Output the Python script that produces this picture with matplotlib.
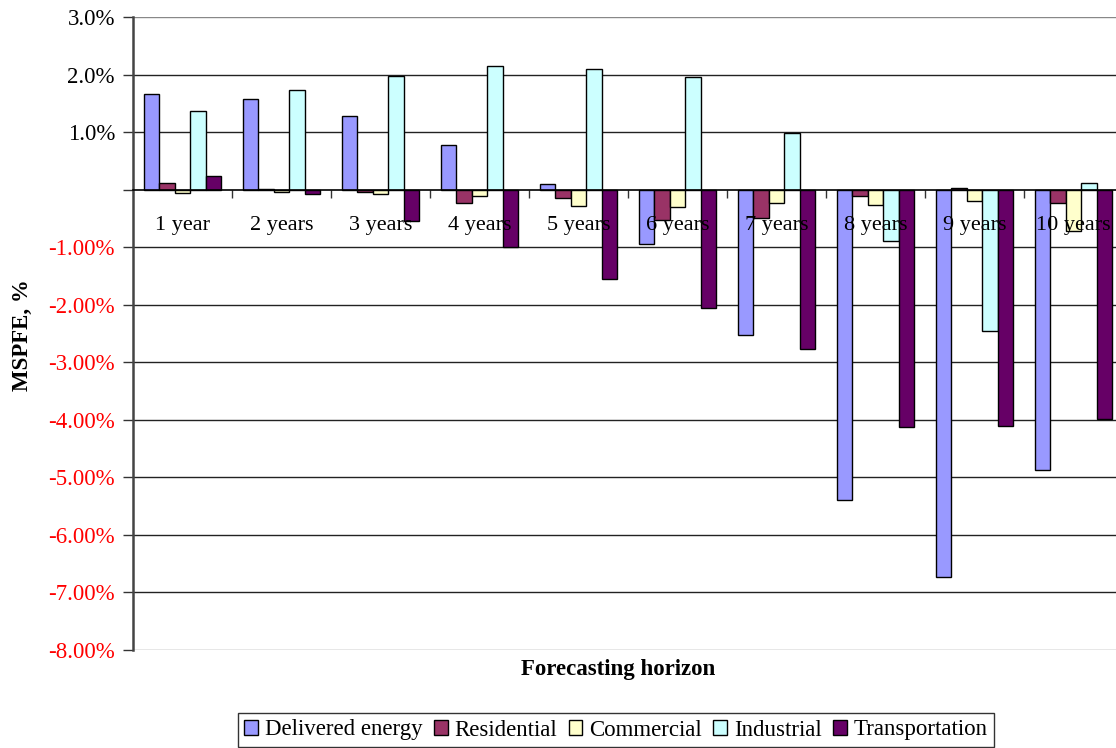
import numpy as np
import matplotlib
matplotlib.use("Agg")
import matplotlib.pyplot as plt
from matplotlib.patches import Patch

horizons = ["1 year", "2 years", "3 years", "4 years", "5 years",
            "6 years", "7 years", "8 years", "9 years", "10 years"]
delivered = [1.66, 1.58, 1.28, 0.77, 0.10, -0.94, -2.53, -5.40, -6.73, -4.87]
residential = [0.12, 0.01, -0.04, -0.24, -0.14, -0.53, -0.49, -0.11, 0.03, -0.24]
commercial = [-0.05, -0.04, -0.07, -0.11, -0.28, -0.30, -0.24, -0.26, -0.20, -0.72]
industrial = [1.36, 1.73, 1.98, 2.14, 2.09, 1.95, 0.98, -0.90, -2.46, 0.12]
transportation = [0.24, -0.08, -0.54, -1.00, -1.56, -2.05, -2.77, -4.12, -4.10, -3.98]

series_names = ["Delivered energy", "Residential", "Commercial", "Industrial", "Transportation"]
series_values = [delivered, residential, commercial, industrial, transportation]
series_colors = ["#9999FF", "#993366", "#FFFFCC", "#CCFFFF", "#660066"]

y_ticks = [3, 2, 1, 0, -1, -2, -3, -4, -5, -6, -7, -8]
y_tick_labels = ["3.0%", "2.0%", "1.0%", "", "-1.00%", "-2.00%", "-3.00%", "-4.00%",
                 "-5.00%", "-6.00%", "-7.00%", "-8.00%"]

serif = ["Liberation Serif", "DejaVu Serif"]
plt.rcParams["font.family"] = serif

fig = plt.figure(figsize=(11.16, 7.48), dpi=100)
ax = fig.add_axes([133 / 1116, 1 - 650 / 748, (1123 - 133) / 1116, (650 - 17) / 748])

x = np.arange(len(horizons))
bar_w = 0.156
offsets = (np.arange(len(series_names)) - 2) * bar_w
for vals, name, color, off in zip(series_values, series_names, series_colors, offsets):
    ax.bar(x + off, vals, width=bar_w, color=color, edgecolor="black",
           linewidth=1.0, label=name, zorder=3)

ax.set_xlim(-0.5, len(horizons) - 0.5)
ax.set_ylim(-8, 3)

# horizontal grid
for t in y_ticks:
    if t == 0:
        continue
    ax.axhline(t, color="#222222" if t not in (3, -8) else "#888888", linewidth=1.0, zorder=1)

for s in ["top", "right"]:
    ax.spines[s].set_visible(False)
ax.spines["left"].set_color("#444444")
ax.spines["left"].set_linewidth(1.8)
ax.spines["bottom"].set_position(("data", 0))
ax.spines["bottom"].set_color("black")
ax.spines["bottom"].set_linewidth(1.2)
ax.spines["bottom"].set_zorder(4)

ax.set_yticks(y_ticks)
ax.set_yticklabels(y_tick_labels, fontsize=16.5)
for lab, t in zip(ax.get_yticklabels(), y_ticks):
    lab.set_color("black" if t >= 0 else "red")
ax.tick_params(axis="y", direction="out", length=7, width=1, color="#333333", pad=6)

ax.set_xticks(np.arange(len(horizons) - 1) + 0.5)
ax.set_xticklabels([])
ax.tick_params(axis="x", direction="out", length=6, width=1, color="#333333")

for xi, lab in zip(x, horizons):
    ax.text(xi, -0.62, lab, ha="center", va="center", fontsize=16, zorder=5)

fig.text(22 / 1116, 1 - 335 / 748, "MSPFE, %", rotation=90, ha="center", va="center",
         fontsize=16.5, fontweight="bold")
fig.text(618 / 1116, 1 - 669 / 748, "Forecasting horizon", ha="center", va="center",
         fontsize=16.5, fontweight="bold")

handles = [Patch(facecolor=c, edgecolor="black", linewidth=1.0) for c in series_colors]
leg = fig.legend(handles, series_names, loc="center", bbox_to_anchor=(616 / 1116, 1 - 730 / 748),
                 ncol=5, fontsize=16.5, frameon=True, fancybox=False, handlelength=0.6,
                 handleheight=0.6, handletextpad=0.3, columnspacing=0.5, borderpad=0.28,
                 borderaxespad=0.0)
leg.get_frame().set_edgecolor("black")
leg.get_frame().set_linewidth(1.0)

fig.savefig("out.png", dpi=100)
